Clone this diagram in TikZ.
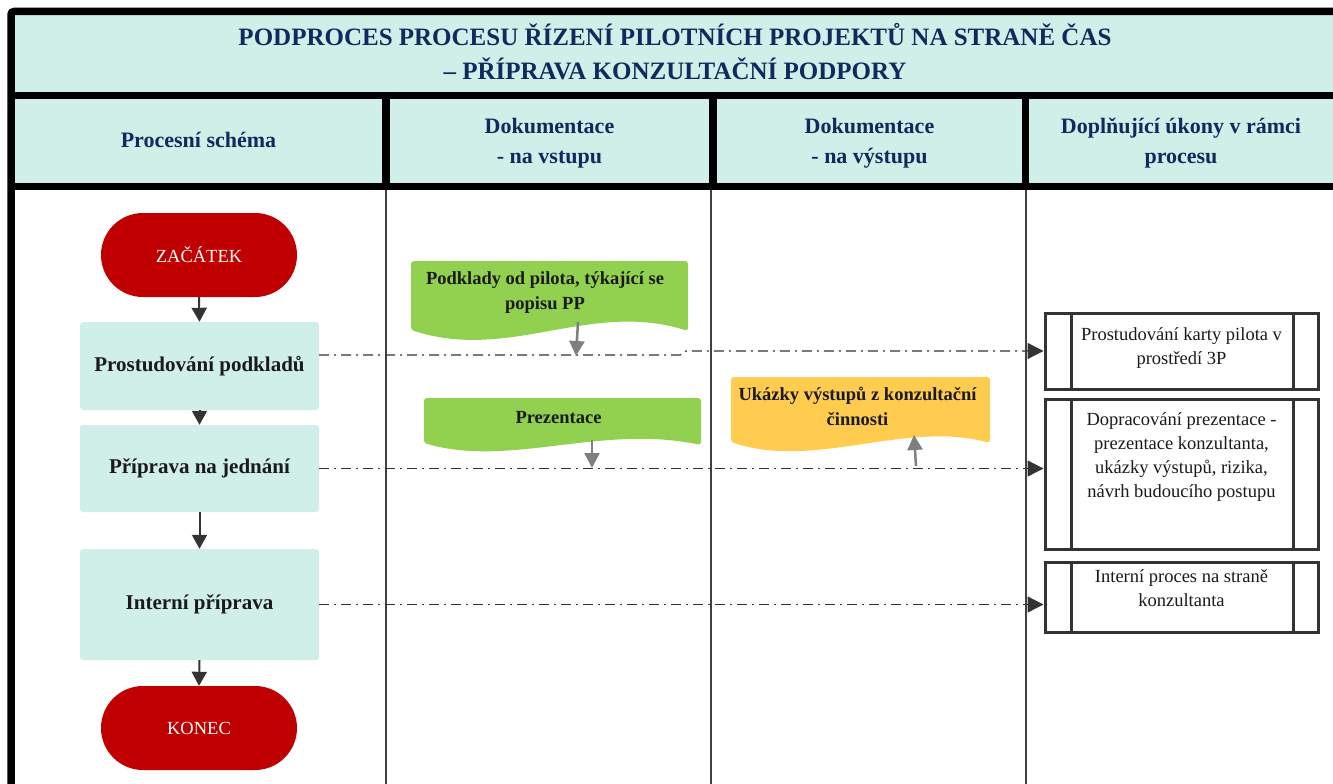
\documentclass[tikz,border=0pt]{standalone}
\usepackage{fontspec}
\setmainfont{Liberation Serif}
\usetikzlibrary{arrows.meta,calc}
\definecolor{hdrfill}{HTML}{D0EFE9}
\definecolor{hdrtext}{HTML}{102A5E}
\definecolor{termred}{HTML}{C00000}
\definecolor{docgreen}{HTML}{92D050}
\definecolor{docyellow}{HTML}{FFCC4F}
\definecolor{arrowdark}{HTML}{333333}
\definecolor{docgray}{HTML}{7F7F7F}
\definecolor{boxdark}{HTML}{333333}
\definecolor{bodytext}{HTML}{1A1A1A}
\begin{document}
\begin{tikzpicture}[x=1pt,y=-1pt,
  terminal/.style={rectangle, rounded corners=42pt, fill=termred, minimum width=196pt, minimum height=84pt, text=white, font=\fontsize{18.5}{22}\selectfont, inner sep=0pt},
  stepbox/.style={rectangle, rounded corners=3pt, fill=hdrfill, minimum width=239pt, font=\fontsize{21}{25}\selectfont\bfseries, text=bodytext, inner sep=0pt},
  hdr/.style={align=center, font=\fontsize{22}{30}\selectfont\bfseries, text=hdrtext},
  titletext/.style={align=center, font=\fontsize{25}{34}\selectfont\bfseries, text=hdrtext},
  flowarrow/.style={draw=arrowdark, line width=2pt, -{Triangle[width=15pt,length=14pt]}},
  dashlink/.style={draw=arrowdark, line width=1.3pt, dash pattern=on 10pt off 5pt on 2pt off 5pt, -{Triangle[width=16pt,length=16pt]}},
  docarrow/.style={draw=docgray, line width=2.5pt, -{Triangle[width=15pt,length=15pt]}},
  doctext/.style={align=center, font=\fontsize{18.5}{25}\selectfont\bfseries, text=bodytext},
  actbox/.style={draw=boxdark, line width=3pt, inner sep=0pt, minimum width=273pt, font=\fontsize{18.5}{24}\selectfont, text=bodytext},
  actbar/.style={draw=boxdark, line width=2.5pt},
  thickrule/.style={draw=black, line width=7.5pt},
  thinrule/.style={draw=black!75, line width=1.3pt}
]
\useasboundingbox (0,0) rectangle (1333,784);
\fill[white] (0,0) rectangle (1333,784);
% header fills
\fill[hdrfill] (11,11) rectangle (1333,186);
% table rules
\draw[thinrule] (386,186) -- (386,784);
\draw[thinrule] (711,186) -- (711,784);
\draw[thinrule] (1026,186) -- (1026,784);
\draw[thickrule, rounded corners=3pt] (11,784) -- (11,11.5) -- (1333,11.5);
\draw[thickrule, line width=7pt] (11,95.5) -- (1333,95.5);
\draw[thickrule, line width=7pt] (11,186.5) -- (1333,186.5);
\draw[thickrule] (386,95) -- (386,187);
\draw[thickrule] (713,95) -- (713,187);
\draw[thickrule] (1025.5,95) -- (1025.5,187);
% titles
\node[titletext] (title) at (675,51.5) {PODPROCES PROCESU ŘÍZENÍ PILOTNÍCH PROJEKTŮ NA STRANĚ ČAS\\– PŘÍPRAVA KONZULTAČNÍ PODPORY};
\node[hdr] (h1) at (198.5,140) {Procesní schéma};
\node[hdr] (h2) at (549.5,143) {Dokumentace\\- na vstupu};
\node[hdr] (h3) at (869.5,143) {Dokumentace\\- na výstupu};
\node[hdr] (h4) at (1181,143) {Doplňující úkony v rámci\\procesu};
% flow
\node[terminal] (start) at (199,255) {ZAČÁTEK};
\node[stepbox, minimum height=88pt] (b1) at (199.5,366) {Prostudování podkladů};
\node[stepbox, minimum height=87pt] (b2) at (199.5,468.5) {Příprava na jednání};
\node[stepbox, minimum height=111pt] (b3) at (199.5,604.5) {Interní příprava};
\node[terminal] (end) at (199,728) {KONEC};
\draw[flowarrow] (start.south) -- (b1.north);
\draw[flowarrow] (b1.south) -- (b2.north);
\draw[flowarrow] (b2.south) -- (b3.north);
\draw[flowarrow] (b3.south) -- (end.north);
% documents
\fill[docgreen, rounded corners=3pt] (411,330) -- (411,261) -- (688,261) -- (688,331) .. controls (590,300) and (510,362) .. cycle;
\node[doctext] (d1) at (545,293) {Podklady od pilota, týkající se\\popisu PP};
\fill[docgreen, rounded corners=3pt] (424,443) -- (424,398) -- (701,398) -- (701,445) .. controls (600,424) and (510,468) .. cycle;
\node[doctext] (d2) at (558.5,418) {Prezentace};
\fill[docyellow, rounded corners=3pt] (731,442) -- (731,377) -- (990,377) -- (990,443) .. controls (905,420) and (815,470) .. cycle;
\node[doctext] (d3) at (857.5,406) {Ukázky výstupů z konzultační\\činnosti};
% activity boxes
\node[actbox] (pA) at (1181.5,351) {\parbox[c][76pt][t]{218pt}{\centering\vspace*{15pt}Prostudování karty pilota v\\prostředí 3P}};
\node[actbox] (pB) at (1181.5,474) {\parbox[c][150pt][t]{218pt}{\centering\vspace*{14pt}Dopracování prezentace -\\prezentace konzultanta,\\ukázky výstupů, rizika,\\návrh budoucího postupu}};
\node[actbox] (pC) at (1181.5,597) {\parbox[c][70pt][t]{218pt}{\centering\vspace*{8pt}Interní proces na straně\\konzultanta}};
\foreach \b in {pA,pB,pC}{
  \draw[actbar] ([xshift=28pt]\b.north west) -- ([xshift=28pt]\b.south west);
  \draw[actbar] ([xshift=-26pt]\b.north east) -- ([xshift=-26pt]\b.south east);
}
% dash links
\coordinate (k1) at (680,355);
\coordinate (k2) at (686,351);
\draw[dashlink] ([yshift=11pt]b1.east) -- (k1) -- (k2) -- (pA.west);
\draw[dashlink] (b2.east) -- (b2.east -| pB.west);
\draw[dashlink] (b3.east) -- (b3.east -| pC.west);
% document arrows
\coordinate (g1s) at (578,322);
\coordinate (g1e) at (576,356);
\coordinate (g2s) at (592,440);
\coordinate (g2e) at (592,468);
\coordinate (g3s) at (916,466);
\coordinate (g3e) at (914,435);
\draw[docarrow] (g1s) -- (g1e);
\draw[docarrow] (g2s) -- (g2e);
\draw[docarrow] (g3s) -- (g3e);
\end{tikzpicture}
\end{document}
